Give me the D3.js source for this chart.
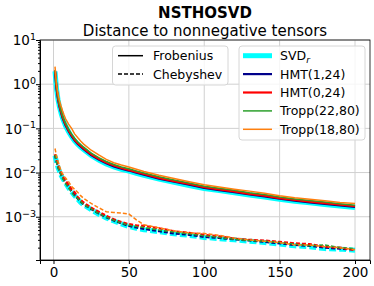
<!DOCTYPE html>
<html>
<head>
<meta charset="utf-8">
<script src="https://cdn.jsdelivr.net/npm/d3@7"></script>
<style>
  body { margin: 0; background: #fff; }
  svg { display: block; font-family: "DejaVu Sans", sans-serif; }
</style>
</head>
<body>
<div id="chart"></div>
<script>
// iteration numbers where values were read
var iters = [1, 2, 3, 4, 5, 6, 7, 8, 10, 12, 14, 16, 18, 20, 25, 30, 35, 40, 45, 50, 55, 60,
             70, 80, 90, 100, 110, 120, 130, 140, 150, 160, 170, 180, 190, 200];

// Frobenius distance
var svdFro    = [1.95, 0.78, 0.446, 0.3, 0.223, 0.17, 0.138, 0.114, 0.084, 0.065, 0.052, 0.0437, 0.0378, 0.033, 0.0243, 0.0191, 0.0157, 0.0134, 0.0118, 0.0108, 0.0096, 0.0086, 0.0071, 0.006, 0.0051, 0.00437, 0.0039, 0.0035, 0.0031, 0.0028, 0.00247, 0.00223, 0.00206, 0.00189, 0.00175, 0.00162];
var hmt124Fro = [2.0, 0.8, 0.46, 0.31, 0.23, 0.175, 0.142, 0.118, 0.087, 0.067, 0.054, 0.045, 0.039, 0.034, 0.025, 0.0197, 0.0162, 0.0138, 0.0122, 0.0111, 0.0099, 0.0089, 0.0073, 0.0062, 0.0053, 0.0045, 0.004, 0.0036, 0.0032, 0.0029, 0.00255, 0.0023, 0.00212, 0.00195, 0.0018, 0.00167];
var hmt024Fro = [2.05, 0.83, 0.48, 0.32, 0.24, 0.182, 0.148, 0.123, 0.091, 0.07, 0.056, 0.047, 0.0405, 0.0354, 0.026, 0.0205, 0.0168, 0.0144, 0.0127, 0.0115, 0.0103, 0.0093, 0.0076, 0.0064, 0.0055, 0.0047, 0.00415, 0.00375, 0.0033, 0.003, 0.00265, 0.0024, 0.0022, 0.00203, 0.00187, 0.00173];
var tr2280Fro = [2.1, 0.88, 0.51, 0.34, 0.253, 0.193, 0.156, 0.13, 0.096, 0.074, 0.06, 0.05, 0.043, 0.0375, 0.0276, 0.0217, 0.0178, 0.0152, 0.0134, 0.0122, 0.0109, 0.0098, 0.008, 0.0068, 0.0058, 0.0049, 0.0044, 0.004, 0.0035, 0.0032, 0.0028, 0.00253, 0.00233, 0.00215, 0.00198, 0.00182];
var tr1880Fro = [2.5, 1.0, 0.6, 0.42, 0.32, 0.25, 0.2, 0.165, 0.125, 0.1, 0.075, 0.062, 0.052, 0.044, 0.032, 0.025, 0.0198, 0.0167, 0.0148, 0.0134, 0.0119, 0.0106, 0.0087, 0.0073, 0.0062, 0.0053, 0.0047, 0.0042, 0.0038, 0.0034, 0.003, 0.0027, 0.0025, 0.0023, 0.0021, 0.002];

// Chebyshev distance
var svdCheb    = [0.024, 0.0175, 0.013, 0.0106, 0.0087, 0.0075, 0.0066, 0.0058, 0.0045, 0.0037, 0.003, 0.0025, 0.0021, 0.00185, 0.00145, 0.00114, 0.00094, 0.0008, 0.00069, 0.0006, 0.00055, 0.00051, 0.00046, 0.00041, 0.00038, 0.00034, 0.00032, 0.0003, 0.00028, 0.00026, 0.00024, 0.00022, 0.00021, 0.00019, 0.000185, 0.000175];
var hmt124Cheb = [0.025, 0.018, 0.0135, 0.011, 0.009, 0.0078, 0.0068, 0.006, 0.0047, 0.0038, 0.0031, 0.0026, 0.0022, 0.0019, 0.0015, 0.00118, 0.00097, 0.00082, 0.00071, 0.00062, 0.00057, 0.00053, 0.00047, 0.00042, 0.00039, 0.00035, 0.00033, 0.00031, 0.00029, 0.00027, 0.00025, 0.00023, 0.00022, 0.0002, 0.00019, 0.00018];
var hmt024Cheb = [0.026, 0.019, 0.015, 0.012, 0.0098, 0.0085, 0.0072, 0.0066, 0.0052, 0.0042, 0.0036, 0.0028, 0.0024, 0.0021, 0.0016, 0.0013, 0.00105, 0.00088, 0.00076, 0.00068, 0.00064, 0.00062, 0.00055, 0.00047, 0.00043, 0.00039, 0.00036, 0.00032, 0.0003, 0.00029, 0.00027, 0.00025, 0.00024, 0.00021, 0.0002, 0.000175];
var tr2280Cheb = [0.025, 0.017, 0.013, 0.0105, 0.0088, 0.0074, 0.0064, 0.0056, 0.0045, 0.0036, 0.0029, 0.0026, 0.0022, 0.0019, 0.0015, 0.00118, 0.00098, 0.00083, 0.00072, 0.00064, 0.0006, 0.00057, 0.0005, 0.00045, 0.00041, 0.00037, 0.00034, 0.00031, 0.00029, 0.00028, 0.00026, 0.00024, 0.00022, 0.00023, 0.0002, 0.00019];
var tr1880Cheb = [0.035, 0.024, 0.018, 0.014, 0.011, 0.0095, 0.0082, 0.0075, 0.0062, 0.0048, 0.0042, 0.0036, 0.003, 0.0026, 0.002, 0.0016, 0.0013, 0.00125, 0.00122, 0.00115, 0.00085, 0.00066, 0.00056, 0.00048, 0.00043, 0.00042, 0.00038, 0.00033, 0.0003, 0.00028, 0.00026, 0.00023, 0.00023, 0.00021, 0.0002, 0.00018];

var xTicks = [0, 50, 100, 150, 200];
var yTicks = [10, 1, 0.1, 0.01, 0.001];
var yExps = ["1", "0", "\u22121", "\u22122", "\u22123"];

var methods = ["SVD", "HMT(1,24)", "HMT(0,24)", "Tropp(22,80)", "Tropp(18,80)"];
var colors = ["#00ffff", "#00008b", "#ff0000", "#2ca02c", "#ff7f0e"];
var widths = [5, 2.2, 2.2, 1.5, 1.5];
var froData = [svdFro, hmt124Fro, hmt024Fro, tr2280Fro, tr1880Fro];
var chebData = [svdCheb, hmt124Cheb, hmt024Cheb, tr2280Cheb, tr1880Cheb];

// Chart metadata
var W = 374, H = 286;
var margin = { top: 40, right: 4, bottom: 26, left: 40 },
    width = W - margin.left - margin.right,
    height = H - margin.top - margin.bottom;

var root = d3.select("#chart")
    .append("svg")
    .attr("width", W)
    .attr("height", H);

// titles
root.append("text")
    .attr("x", margin.left + width / 2).attr("y", 17.8)
    .attr("text-anchor", "middle")
    .attr("font-size", 15).attr("font-weight", "bold")
    .text("NSTHOSVD");
root.append("text")
    .attr("x", margin.left + width / 2).attr("y", 35.8)
    .attr("text-anchor", "middle")
    .attr("font-size", 15)
    .text("Distance to nonnegative tensors");

var svg = root.append("g")
    .attr("transform", "translate(" + margin.left + "," + margin.top + ")");

// X axis
var x = d3.scaleLinear()
    .domain([1 - 0.05 * 199, 200 + 0.05 * 199])
    .range([0, width]);

// Y axis
var y = d3.scaleLog()
    .domain([1.05e-4, 10])
    .range([height, 0]);

// grid
svg.append("g").selectAll("line")
    .data(xTicks).join("line")
    .attr("x1", d => x(d)).attr("x2", d => x(d))
    .attr("y1", 0).attr("y2", height)
    .attr("stroke", "#d0d0d0").attr("stroke-width", 1);
svg.append("g").selectAll("line")
    .data(yTicks).join("line")
    .attr("x1", 0).attr("x2", width)
    .attr("y1", d => y(d)).attr("y2", d => y(d))
    .attr("stroke", "#d0d0d0").attr("stroke-width", 1);

// curves
svg.append("clipPath").attr("id", "clip")
    .append("rect").attr("width", width).attr("height", height);

var line = d3.line()
    .x(function (d) { return x(d[0]) })
    .y(function (d) { return y(d[1]) });

var plot = svg.append("g").attr("clip-path", "url(#clip)");

froData.forEach(function (vals, i) {
    plot.append("path")
        .datum(iters.map((it, j) => [it, vals[j]]))
        .attr("fill", "none")
        .attr("stroke", colors[i])
        .attr("stroke-width", widths[i])
        .attr("d", line);
});
chebData.forEach(function (vals, i) {
    plot.append("path")
        .datum(iters.map((it, j) => [it, vals[j]]))
        .attr("fill", "none")
        .attr("stroke", colors[i])
        .attr("stroke-width", widths[i])
        .attr("stroke-dasharray", i === 0 ? "7,3" : "4,2")
        .attr("d", line);
});

// axes
var xAxis = svg.append("g")
    .attr("transform", "translate(0," + height + ")")
    .call(d3.axisBottom(x).tickValues(xTicks).tickSize(4).tickPadding(3));
xAxis.selectAll("text").attr("font-size", 13.5).attr("fill", "#000")
    .attr("font-family", "DejaVu Sans");

var minors = [];
[-4, -3, -2, -1, 0].forEach(function (e) {
    for (var k = 2; k <= 9; k++) minors.push(k * Math.pow(10, e));
});
svg.append("g")
    .call(d3.axisLeft(y).tickValues(minors.filter(d => d >= 1.05e-4 && d <= 10)).tickSize(2).tickFormat(""))
    .call(g => g.select(".domain").remove());

var yAxis = svg.append("g")
    .call(d3.axisLeft(y).tickValues(yTicks).tickSize(4).tickFormat(""));
yAxis.selectAll(".tick").each(function (d, i) {
    var t = d3.select(this).append("text")
        .attr("x", -4).attr("dy", "0.35em")
        .attr("text-anchor", "end")
        .attr("font-size", 13.5).attr("fill", "#000")
        .attr("font-family", "DejaVu Sans");
    t.append("tspan").text("10");
    t.append("tspan").attr("font-size", 9.5).attr("dy", "-0.55em").text(yExps[i]);
});

// right & top spines
svg.append("rect")
    .attr("width", width).attr("height", height)
    .attr("fill", "none").attr("stroke", "#000").attr("stroke-width", 0.8);

// legends
function legendBox(bx, by, bw, bh) {
    root.append("rect")
        .attr("x", bx).attr("y", by).attr("width", bw).attr("height", bh)
        .attr("rx", 3)
        .attr("fill", "#fff").attr("fill-opacity", 0.8)
        .attr("stroke", "#d6d6d6").attr("stroke-width", 1);
}

legendBox(112.5, 46, 115.5, 39);
[["Frobenius", null], ["Chebyshev", "4,2"]].forEach(function (e, i) {
    var ly = 55.7 + i * 18.4;
    root.append("line")
        .attr("x1", 118).attr("x2", 143).attr("y1", ly).attr("y2", ly)
        .attr("stroke", "#000").attr("stroke-width", 1.5)
        .attr("stroke-dasharray", e[1]);
    root.append("text")
        .attr("x", 153).attr("y", ly).attr("dy", "0.36em")
        .attr("font-size", 12.5).text(e[0]);
});

legendBox(239, 46, 126, 94);
methods.forEach(function (m, i) {
    var ly = 55.7 + i * 18.4;
    root.append("line")
        .attr("x1", 243).attr("x2", 272).attr("y1", ly).attr("y2", ly)
        .attr("stroke", colors[i]).attr("stroke-width", widths[i]);
    var t = root.append("text")
        .attr("x", 280).attr("y", ly).attr("dy", "0.36em")
        .attr("font-size", 12.5);
    t.append("tspan").text(m);
    if (i === 0) {
        t.append("tspan").attr("font-size", 9).attr("font-style", "italic")
            .attr("dy", "0.3em").text("r");
    }
});
</script>
</body>
</html>
